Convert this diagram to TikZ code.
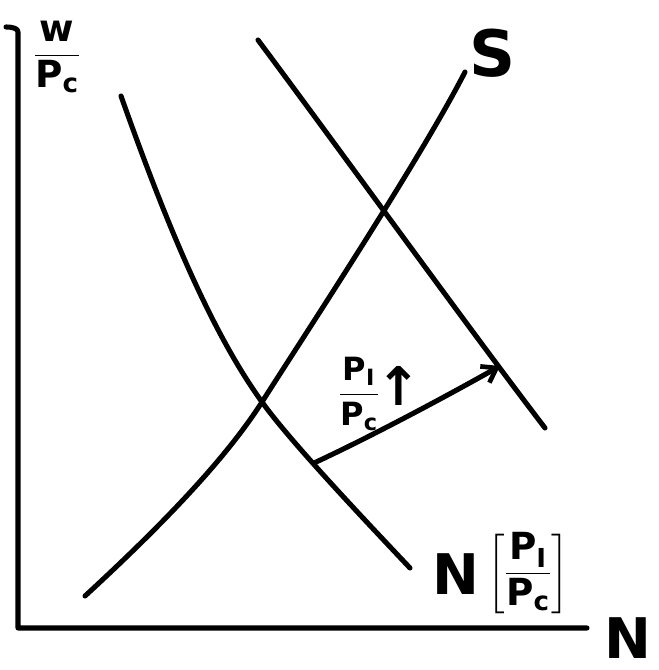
\documentclass[tikz,border=0pt]{standalone}
\usepackage{amsmath}
\usepackage{fontspec}
\setmainfont{DejaVu Sans}
\usetikzlibrary{arrows.meta}
\newcommand{\tfr}[2]{\dfrac{\text{#1}}{\text{#2}}}
\begin{document}
\begin{tikzpicture}[x=0.75pt,y=-0.75pt,
  ink/.style={line width=3.8pt,line cap=round,line join=round},
  lbl/.style={inner sep=0pt,font=\bfseries\fontsize{48}{50}\selectfont}]
\useasboundingbox (0,0) rectangle (658,670);
% axes
\coordinate (top) at (18,32);
\coordinate (orig) at (18,628);
\coordinate (xend) at (587,628);
\draw[ink] (6,27) .. controls (14,27) and (18,29) .. (top) -- (orig) -- (xend);
\node[lbl,font=\bfseries\fontsize{42}{44}\selectfont] (xlab) at (628,638) {N};
\node[inner sep=0pt,font=\bfseries\fontsize{28}{30}\selectfont] (ylab) at (57,57) {$\tfr{w}{P\textsubscript{c}}$};
% demand curves
\coordinate (e1) at (262,402);
\coordinate (e2) at (385,218);
\draw[ink] (121,96) .. controls (165,220) and (210,330) .. (e1) .. controls (290,441) and (360,515) .. (410,568);
\draw[ink] (258,40) .. controls (340,150) and (470,330) .. (545,428);
% supply
\draw[ink] (85,596) .. controls (160,527) and (225,460) .. (e1) .. controls (300,342) and (420,160) .. (465,72);
\node[lbl] (slab) at (493,53) {S};
% shift arrow
\coordinate (a0) at (314,463);
\coordinate (a1) at (500,366);
\draw[ink,-{Straight Barb[length=10pt,width=14pt,line width=3.5pt]}] (a0) .. controls (372,436) and (445,397) .. (a1);
\node[inner sep=0pt,font=\bfseries\fontsize{24}{26}\selectfont] (plab) at (359,394) {$\tfr{P\textsubscript{I}}{P\textsubscript{c}}$};
\node[inner sep=0pt,font=\bfseries\fontsize{40}{42}\selectfont] (uparr) at (399,386) {↑};
% demand label
\node[lbl,font=\bfseries\fontsize{42}{44}\selectfont] (nlab) at (456,574) {N};
\node[inner sep=0pt,font=\bfseries\fontsize{28}{30}\selectfont] (nbr) at (528,573) {$\left[\tfr{P\textsubscript{I}}{P\textsubscript{c}}\right]$};
\end{tikzpicture}
\end{document}
